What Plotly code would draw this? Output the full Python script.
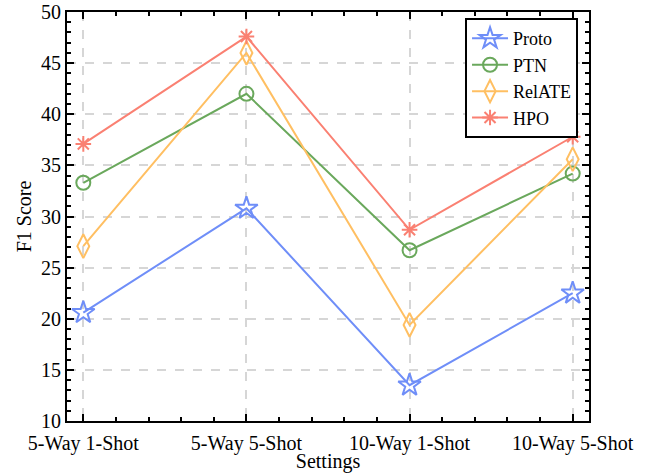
import plotly.graph_objects as go

settings = ["5-Way 1-Shot", "5-Way 5-Shot", "10-Way 1-Shot", "10-Way 5-Shot"]
proto = [20.6, 30.8, 13.5, 22.5]
ptn = [33.3, 42.0, 26.7, 34.2]
relate = [27.1, 46.0, 19.4, 35.6]
hpo = [37.1, 47.6, 28.7, 37.8]

x = list(range(len(settings)))
FONT = "Liberation Serif"

series = [
    ("Proto", proto, "#6f8ef8", "star-open", 17),
    ("PTN", ptn, "#6aa85c", "circle-open", 14),
    ("RelATE", relate, "#ffbf62", "diamond-tall-open", 17),
    ("HPO", hpo, "#fa8072", "asterisk-open", 13),
]

fig = go.Figure()
for name, vals, color, sym, size in series:
    fig.add_trace(go.Scatter(
        x=x, y=vals, name=name, mode="lines+markers",
        line=dict(color=color, width=2),
        marker=dict(symbol=sym, size=size, color=color,
                    line=dict(color=color, width=2)),
    ))

axis_common = dict(
    showline=True, linecolor="black", linewidth=2, mirror="ticks",
    ticks="inside", ticklen=7, tickwidth=1.5, tickcolor="black",
    showgrid=True, gridcolor="#d6d6d6", griddash="dash", gridwidth=1.5,
    zeroline=False, automargin=False,
    tickfont=dict(family=FONT, size=20, color="black"),
)

fig.update_xaxes(
    **axis_common,
    range=[-0.1, 3.1],
    tickmode="array", tickvals=x, ticktext=settings,
    ticklabelstandoff=3,
    minor=dict(tickmode="linear", tick0=0, dtick=0.2, ticks="inside",
               ticklen=4, tickcolor="black", showgrid=False),
    title=dict(text="Settings", font=dict(family=FONT, size=20, color="black"),
               standoff=0),
)
fig.update_yaxes(
    **axis_common,
    range=[10, 50], tickmode="linear", tick0=10, dtick=5,
    minor=dict(tickmode="linear", tick0=10, dtick=1, ticks="inside",
               ticklen=4, tickcolor="black", showgrid=False),
    title=dict(text="F1 Score", font=dict(family=FONT, size=20, color="black"),
               standoff=4),
)

fig.update_layout(
    width=652, height=473,
    margin=dict(l=67, r=63, t=12, b=52),
    paper_bgcolor="white", plot_bgcolor="white",
    font=dict(family=FONT, size=20, color="black"),
    showlegend=True,
    legend=dict(
        x=0.979, y=0.985, xanchor="right", yanchor="top",
        bordercolor="black", borderwidth=2, bgcolor="white",
        font=dict(family=FONT, size=18, color="black"),
        tracegroupgap=0, itemwidth=36,
    ),
)

fig.write_html("out.html", config={"displayModeBar": False},
               post_script="document.body.style.margin='0';")
